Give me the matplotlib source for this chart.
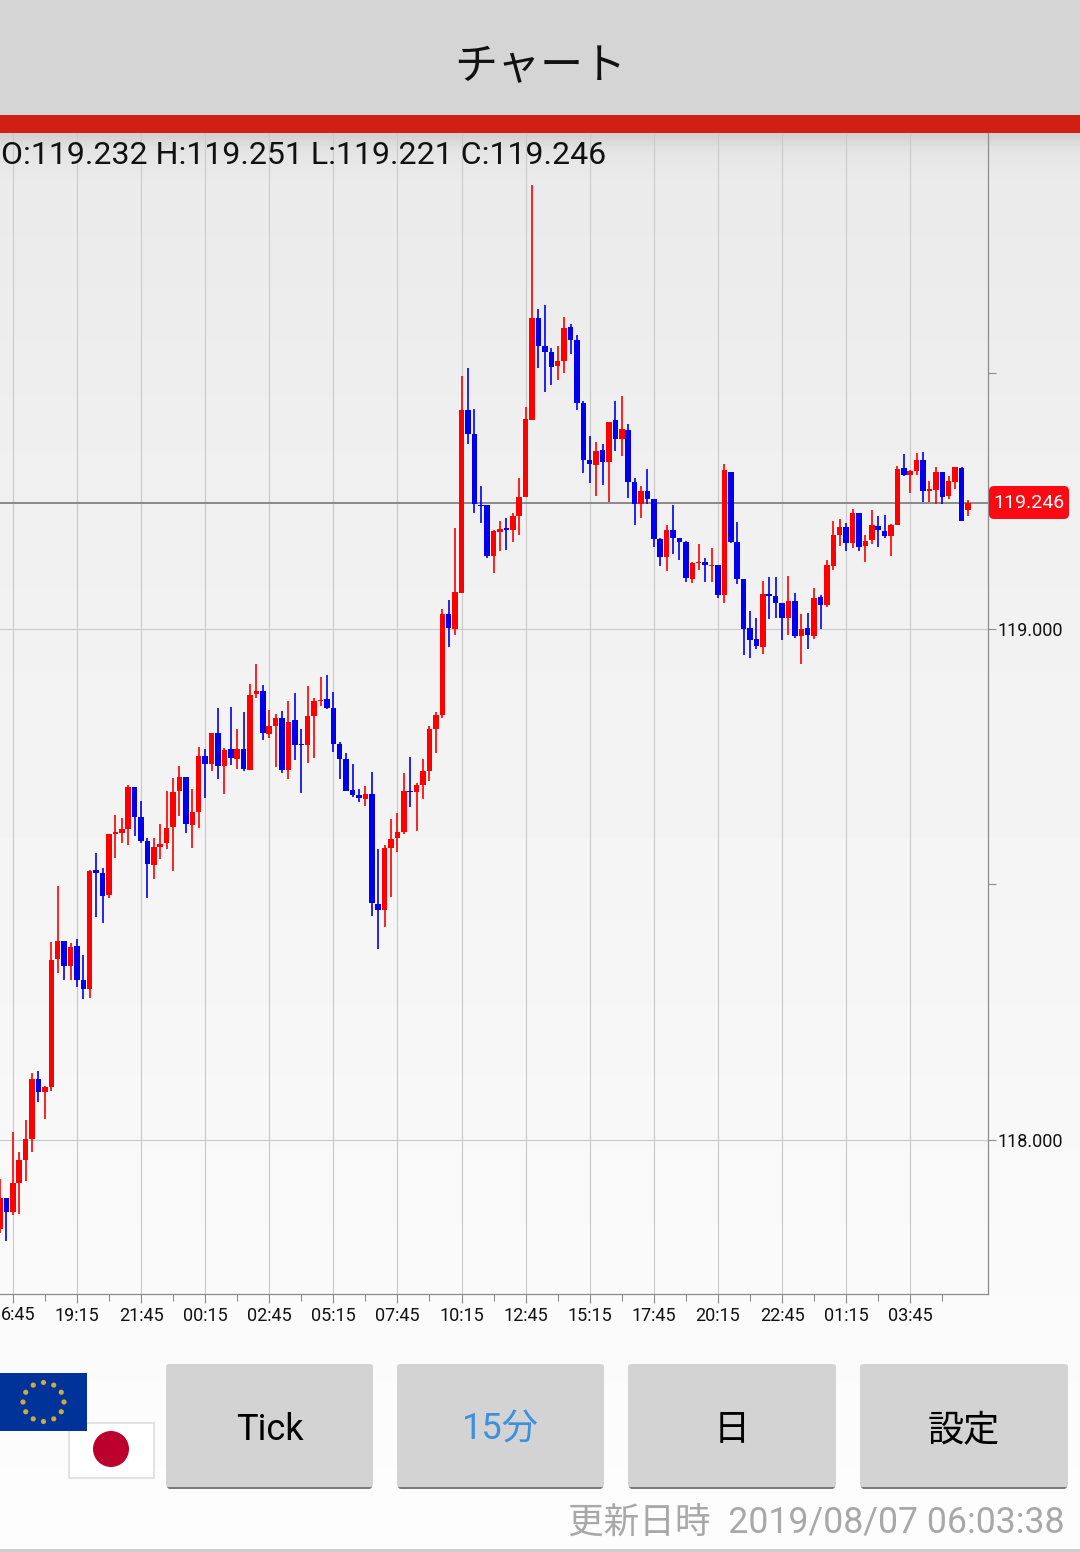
#!/usr/bin/env python3
# 15 minute candle chart, phone app screen
import numpy as np
import matplotlib
matplotlib.use("Agg")
import matplotlib.pyplot as plt
from matplotlib.patches import Rectangle, Circle, FancyBboxPatch

plt.rcParams['font.family'] = ['Roboto', 'Noto Sans CJK JP', 'DejaVu Sans']

# candle values
opens = [
    117.825, 117.886, 117.858, 117.915, 117.960, 118.001, 118.118, 118.093, 118.103, 118.353,
    118.388, 118.340, 118.379, 118.312, 118.295, 118.527, 118.522, 118.478, 118.598, 118.600,
    118.608, 118.690, 118.631, 118.584, 118.537, 118.572, 118.580, 118.612, 118.682, 118.709,
    118.615, 118.641, 118.750, 118.735, 118.796, 118.731, 118.764, 118.745, 118.764, 118.723,
    118.872, 118.878, 118.794, 118.809, 118.825, 118.723, 118.821, 118.774, 118.772, 118.829,
    118.858, 118.862, 118.844, 118.774, 118.745, 118.684, 118.674, 118.666, 118.676, 118.461,
    118.449, 118.570, 118.590, 118.602, 118.682, 118.680, 118.694, 118.721, 118.803, 118.831,
    119.028, 118.999, 119.069, 119.428, 119.381, 119.242, 119.242, 119.142, 119.189, 119.197,
    119.193, 119.220, 119.257, 119.408, 119.608, 119.553, 119.541, 119.514, 119.523, 119.590,
    119.565, 119.441, 119.330, 119.320, 119.349, 119.326, 119.408, 119.371, 119.388, 119.287,
    119.244, 119.269, 119.253, 119.175, 119.140, 119.193, 119.177, 119.169, 119.097, 119.128,
    119.130, 119.122, 119.124, 119.066, 119.306, 119.169, 119.097, 119.001, 118.980, 118.964,
    119.068, 119.064, 119.050, 119.021, 119.054, 118.985, 119.001, 118.985, 119.062, 119.046,
    119.122, 119.183, 119.199, 119.167, 119.226, 119.161, 119.173, 119.201, 119.191, 119.181,
    119.203, 119.314, 119.300, 119.308, 119.330, 119.269, 119.271, 119.306, 119.259, 119.287,
    119.314, 119.232,
]
highs = [
    117.923, 117.886, 118.015, 117.976, 118.038, 118.130, 118.134, 118.105, 118.387, 118.496,
    118.388, 118.385, 118.392, 118.361, 118.527, 118.561, 118.531, 118.598, 118.635, 118.629,
    118.694, 118.690, 118.662, 118.590, 118.590, 118.617, 118.682, 118.707, 118.731, 118.709,
    118.686, 118.768, 118.764, 118.796, 118.844, 118.766, 118.846, 118.803, 118.837, 118.891,
    118.931, 118.889, 118.841, 118.833, 118.839, 118.858, 118.874, 118.803, 118.887, 118.864,
    118.905, 118.909, 118.876, 118.778, 118.756, 118.735, 118.686, 118.692, 118.719, 118.568,
    118.576, 118.627, 118.639, 118.717, 118.749, 118.698, 118.745, 118.809, 118.837, 119.038,
    119.056, 119.197, 119.494, 119.510, 119.430, 119.279, 119.242, 119.193, 119.210, 119.216,
    119.226, 119.295, 119.433, 119.868, 119.625, 119.633, 119.549, 119.553, 119.610, 119.596,
    119.574, 119.445, 119.377, 119.365, 119.361, 119.404, 119.445, 119.455, 119.400, 119.295,
    119.279, 119.312, 119.253, 119.177, 119.203, 119.242, 119.177, 119.171, 119.130, 119.165,
    119.138, 119.158, 119.124, 119.322, 119.306, 119.208, 119.097, 119.034, 119.021, 119.093,
    119.101, 119.101, 119.050, 119.103, 119.069, 119.028, 119.030, 119.079, 119.066, 119.134,
    119.210, 119.214, 119.206, 119.234, 119.226, 119.183, 119.232, 119.220, 119.222, 119.205,
    119.318, 119.341, 119.310, 119.343, 119.345, 119.289, 119.316, 119.306, 119.298, 119.316,
    119.316, 119.251,
]
lows = [
    117.817, 117.801, 117.852, 117.854, 117.919, 117.976, 118.073, 118.040, 118.095, 118.326,
    118.312, 118.312, 118.298, 118.275, 118.277, 118.435, 118.424, 118.473, 118.551, 118.580,
    118.576, 118.594, 118.580, 118.473, 118.510, 118.549, 118.568, 118.525, 118.633, 118.600,
    118.570, 118.610, 118.668, 118.721, 118.705, 118.676, 118.733, 118.725, 118.721, 118.723,
    118.864, 118.782, 118.786, 118.729, 118.717, 118.705, 118.743, 118.678, 118.737, 118.747,
    118.848, 118.842, 118.758, 118.705, 118.682, 118.670, 118.660, 118.653, 118.437, 118.373,
    118.416, 118.475, 118.563, 118.598, 118.651, 118.604, 118.666, 118.702, 118.756, 118.825,
    118.964, 118.987, 119.069, 119.361, 119.226, 119.206, 119.138, 119.109, 119.152, 119.154,
    119.169, 119.183, 119.257, 119.408, 119.510, 119.463, 119.477, 119.486, 119.500, 119.537,
    119.428, 119.304, 119.285, 119.259, 119.281, 119.248, 119.347, 119.338, 119.255, 119.203,
    119.216, 119.244, 119.159, 119.122, 119.112, 119.146, 119.134, 119.091, 119.089, 119.114,
    119.091, 119.091, 119.060, 119.050, 119.167, 119.087, 118.948, 118.942, 118.960, 118.950,
    119.019, 119.021, 118.978, 118.987, 118.981, 118.931, 118.960, 118.979, 118.999, 119.042,
    119.114, 119.161, 119.152, 119.158, 119.152, 119.130, 119.165, 119.159, 119.177, 119.142,
    119.203, 119.298, 119.265, 119.300, 119.248, 119.248, 119.244, 119.244, 119.253, 119.273,
    119.210, 119.221,
]
closes = [
    117.886, 117.858, 117.915, 117.960, 118.001, 118.118, 118.093, 118.103, 118.351, 118.388,
    118.340, 118.377, 118.312, 118.295, 118.525, 118.522, 118.477, 118.598, 118.602, 118.608,
    118.690, 118.631, 118.584, 118.539, 118.572, 118.578, 118.610, 118.680, 118.709, 118.617,
    118.641, 118.750, 118.735, 118.796, 118.731, 118.762, 118.747, 118.764, 118.725, 118.870,
    118.878, 118.796, 118.809, 118.825, 118.723, 118.817, 118.772, 118.772, 118.829, 118.858,
    118.860, 118.844, 118.774, 118.745, 118.682, 118.674, 118.668, 118.676, 118.463, 118.449,
    118.570, 118.588, 118.602, 118.682, 118.680, 118.694, 118.721, 118.803, 118.831, 119.028,
    119.001, 119.071, 119.428, 119.381, 119.244, 119.240, 119.142, 119.191, 119.195, 119.193,
    119.220, 119.257, 119.410, 119.608, 119.553, 119.541, 119.512, 119.523, 119.588, 119.565,
    119.441, 119.330, 119.322, 119.347, 119.326, 119.404, 119.371, 119.390, 119.287, 119.244,
    119.269, 119.253, 119.175, 119.140, 119.193, 119.177, 119.169, 119.099, 119.128, 119.130,
    119.124, 119.124, 119.066, 119.310, 119.169, 119.097, 118.999, 118.978, 118.966, 119.068,
    119.064, 119.050, 119.021, 119.054, 118.985, 118.999, 118.987, 119.060, 119.046, 119.124,
    119.183, 119.199, 119.167, 119.226, 119.159, 119.171, 119.203, 119.193, 119.181, 119.203,
    119.312, 119.300, 119.308, 119.330, 119.269, 119.273, 119.306, 119.257, 119.289, 119.316,
    119.210, 119.246,
]
first_time_label = '6:45'  # cut at the screen edge in the app
time_labels = ['', '19:15', '21:45', '00:15', '02:45', '05:15', '07:45', '10:15',
               '12:45', '15:15', '17:45', '20:15', '22:45', '01:15', '03:45']
price_ticks = [118.0, 119.0]
price_minor = [118.5, 119.5]
button_names = ['Tick', '15分', '日', '設定']
button_colors = ['black', '#3d8fe0', 'black', 'black']
button_left = [166, 397, 628, 860]
button_right = [373, 604, 836, 1068]

W, H = 1080, 1552
UP, DOWN = '#ff0000', '#0000ee'
GRID = '#c9c9c9'
AXIS = '#8c8c8c'

fig = plt.figure(figsize=(W / 100, H / 100), dpi=100)

# page background and bars, in pixels
bg = fig.add_axes([0, 0, 1, 1], zorder=0)
bg.set_xlim(0, W)
bg.set_ylim(H, 0)
bg.axis('off')
rows = np.arange(H)
shade = np.interp(rows, [133, 150, 175, 500, 1000, 1294, 1552],
                  [208, 228, 234, 240, 246, 250, 253])
bg.imshow(shade[:, None], cmap='gray', vmin=0, vmax=255, extent=[0, W, H, 0], aspect='auto')
bg.set_xlim(0, W)
bg.set_ylim(H, 0)
bg.add_patch(Rectangle((0, 0), W, 115, fc='#d5d5d5', ec='none'))
bg.add_patch(Rectangle((0, 115), W, 18, fc='#cf2013', ec='none'))
bg.add_patch(Rectangle((0, 1549), W, 3, fc='#cfcfcf', ec='none'))
bg.text(540, 67, 'チャート', fontsize=31, ha='center', va='center', color='#111111',
        family=['Noto Sans CJK JP', 'DejaVu Sans'])

# chart
ax = fig.add_axes([0, (H - 1294) / H, 988 / W, (1294 - 133) / H], zorder=1)
ax.patch.set_alpha(0)
x = np.arange(len(closes))
o = np.array(opens)
c = np.array(closes)
colors = [UP if b >= a else DOWN for a, b in zip(opens, closes)]

ax.set_xlim(0.0, 154.13)
ax.set_ylim(117.6977, 119.9697)
ax.set_xticks(np.arange(2, 143, 10))
ax.set_xticklabels(time_labels)
ax.set_xticks(np.arange(7, 148, 10), minor=True)
ax.yaxis.tick_right()
ax.set_yticks(price_ticks)
ax.set_yticklabels(['%.3f' % p for p in price_ticks])
ax.set_yticks(price_minor, minor=True)
ax.grid(True, which='major', color=GRID, lw=0.8)
ax.set_axisbelow(True)
ax.tick_params(axis='x', which='major', length=6.5, width=0.8, color=AXIS, labelsize=13, pad=3, labelcolor='#111111')
ax.tick_params(axis='x', which='minor', length=5, width=0.8, color=AXIS)
ax.tick_params(axis='y', which='both', length=6, width=0.8, color=AXIS, labelsize=13, pad=0.7, labelcolor='#111111')
for side in ['top', 'left']:
    ax.spines[side].set_visible(False)
for side in ['right', 'bottom']:
    ax.spines[side].set_color(AXIS)
    ax.spines[side].set_linewidth(0.9)

ax.axhline(closes[-1], color='#8a8a8a', lw=1.4, zorder=1.5)
ax.vlines(x, lows, highs, colors=colors, lw=1.2, zorder=2)
# very small bodies still get a visible height
body = np.maximum(np.abs(c - o), 0.002)
ax.bar(x, body, bottom=np.minimum(o, c), width=0.86, color=colors, lw=0, zorder=3)

# things drawn over the chart, in pixels
top = fig.add_axes([0, 0, 1, 1], zorder=2)
top.set_xlim(0, W)
top.set_ylim(H, 0)
top.axis('off')
top.text(1, 155, 'O:%.3f H:%.3f L:%.3f C:%.3f' % (opens[-1], highs[-1], lows[-1], closes[-1]),
         fontsize=23, ha='left', va='center', color='#111111')
top.text(1, 1315, first_time_label, fontsize=13, ha='left', va='center', color='#111111')

# last price tag
top.add_patch(FancyBboxPatch((989, 486), 80, 33, boxstyle='round,pad=0,rounding_size=5',
                             fc='#fb0a14', ec='none'))
top.text(1029, 502.5, '%.3f' % closes[-1], color='white', fontsize=14, ha='center', va='center')

# flags
top.add_patch(Rectangle((68.5, 1422.5), 85, 55, fc='white', ec='#dddddd', lw=1.2))
top.add_patch(Circle((111, 1449), 18, fc='#bc002d', ec='none'))
top.add_patch(Rectangle((0, 1373), 87, 58, fc='#003399', ec='none'))
for a in np.arange(12) * np.pi / 6:
    top.add_patch(Circle((43.5 + 20.5 * np.cos(a), 1402 + 19.5 * np.sin(a)), 2.6, fc='#c9ab3f', ec='none'))

# buttons
for name, col, l, r in zip(button_names, button_colors, button_left, button_right):
    top.add_patch(FancyBboxPatch((l + 1, 1365), r - l - 2, 124, boxstyle='round,pad=0,rounding_size=3',
                                 fc='#7a7a7a', ec='none'))
    top.add_patch(FancyBboxPatch((l, 1364), r - l, 123, boxstyle='round,pad=0,rounding_size=3',
                                 fc='#d3d3d3', ec='none'))
    top.text((l + r) / 2, 1430, name, fontsize=26, ha='center', va='center', color=col)

top.text(1065, 1523, '更新日時  2019/08/07 06:03:38', fontsize=25.7, ha='right', va='center', color='#a8a8a8')

fig.savefig('out.png', dpi=100)
